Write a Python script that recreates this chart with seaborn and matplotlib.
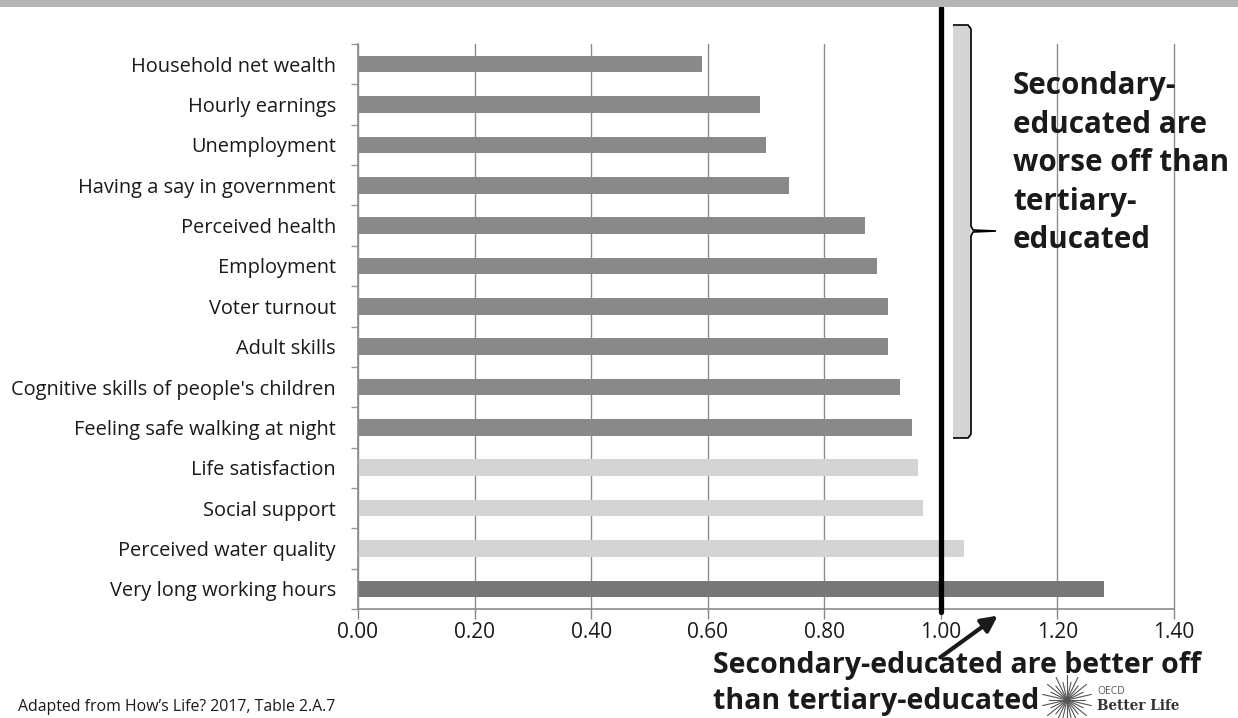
import numpy as np
import matplotlib
matplotlib.use("Agg")
import matplotlib.pyplot as plt
from matplotlib.path import Path
from matplotlib.patches import PathPatch, Rectangle, FancyArrowPatch
import seaborn as sns

# data (ratio secondary / tertiary educated)
labels = ["Household net wealth", "Hourly earnings", "Unemployment",
          "Having a say in government", "Perceived health", "Employment",
          "Voter turnout", "Adult skills", "Cognitive skills of people's children",
          "Feeling safe walking at night", "Life satisfaction", "Social support",
          "Perceived water quality", "Very long working hours"]
values = [0.59, 0.69, 0.70, 0.74, 0.87, 0.89, 0.91, 0.91, 0.93, 0.95,
          0.96, 0.97, 1.04, 1.28]
bar_colors = ["#898989"] * 10 + ["#d4d4d4"] * 3 + ["#777777"]
xticks = [0.0, 0.2, 0.4, 0.6, 0.8, 1.0, 1.2, 1.4]

sns.set_theme(style="white")
plt.rcParams["font.family"] = ["Open Sans", "DejaVu Sans"]

W, H = 1238, 718
fig = plt.figure(figsize=(W / 100, H / 100), dpi=100)
ax = fig.add_axes([358 / W, 1 - 609 / H, 816 / W, 565 / H])

sns.barplot(x=values, y=labels, hue=labels, palette=bar_colors, legend=False,
            orient="h", width=0.41, saturation=1, linewidth=0, ax=ax)

ax.set_xlim(0, 1.4)
ax.set_ylim(len(labels) - 0.5, -0.5)
ax.set_xticks(xticks)
ax.set_xticklabels([f"{t:.2f}" for t in xticks], fontsize=15, color="#1a1a1a")
ax.set_yticks(range(len(labels)))
ax.set_yticklabels(labels, fontsize=14.4, color="#1a1a1a")
ax.set_yticks(np.arange(-0.5, len(labels), 1), minor=True)
ax.tick_params(axis="y", which="major", length=0, pad=16)
ax.tick_params(axis="y", which="minor", length=5, width=1, color="#999999", left=True)
ax.tick_params(axis="x", length=7, width=1, color="#888888", pad=2, bottom=True)
ax.set_xlabel("")
ax.set_ylabel("")
ax.grid(axis="x", color="#8c8c8c", linewidth=1)
for gl in ax.get_xgridlines():
    gl.set_clip_on(False)
ax.set_axisbelow(True)
for side in ["top", "right"]:
    ax.spines[side].set_visible(False)
for side in ["left", "bottom"]:
    ax.spines[side].set_color("#8c8c8c")
    ax.spines[side].set_linewidth(1.2)

# black reference line at parity
ax.axvline(1.0, ymin=-0.006, ymax=(609 - 7) / 565, color="black", linewidth=3.8,
           clip_on=False, zorder=5)

# overlay in pixel coordinates for annotations
ov = fig.add_axes([0, 0, 1, 1])
ov.set_xlim(0, W)
ov.set_ylim(H, 0)
ov.axis("off")
ov.patch.set_alpha(0)

# grey header band
ov.add_patch(Rectangle((0, 0), W, 7, color="#b5b5b5", lw=0))

# bracket
ov.add_patch(Rectangle((953, 26), 18, 412, color="#d4d4d4", lw=0))
verts = [(953, 25), (968, 25), (971, 29), (971, 226), (973, 230), (996, 231),
         (973, 232), (971, 236), (971, 434), (968, 438), (953, 438)]
ov.add_patch(PathPatch(Path(verts), fill=False, edgecolor="black", lw=1.2))

ov.text(1013, 71, "Secondary-\neducated are\nworse off than\ntertiary-\neducated",
        fontsize=21.3, fontweight="bold", color="#1a1a1a", va="top", ha="left",
        linespacing=1.37)

# arrow and bottom note
ov.add_patch(FancyArrowPatch((938, 659), (1000, 614), arrowstyle="-|>",
                             mutation_scale=24, lw=3, color="#1a1a1a"))
ov.text(713, 666, "Secondary-educated are better off", fontsize=20.5,
        fontweight="bold", color="#1a1a1a", va="center", ha="left")
ov.text(713, 701, "than tertiary-educated", fontsize=20.5,
        fontweight="bold", color="#1a1a1a", va="center", ha="left")

ov.text(18, 707, "Adapted from How\u2019s Life? 2017, Table 2.A.7", fontsize=11.4,
        color="#1a1a1a", va="center", ha="left")

# OECD Better Life logo (approximation)
cx, cy = 1067, 700
for i, ang in enumerate(np.linspace(0, np.pi * 2, 28, endpoint=False)):
    r = 25 if i % 2 else 18
    ov.plot([cx, cx + r * np.cos(ang)], [cy, cy + r * np.sin(ang)],
            color="#555555", lw=0.8)
ov.text(1097, 691, "OECD", fontsize=7.5, color="#555555", va="center", ha="left")
ov.text(1097, 706, "Better Life", fontsize=9.8, fontweight="bold",
        family="DejaVu Serif", color="#333333", va="center", ha="left")

fig.savefig("out.png", dpi=100)
